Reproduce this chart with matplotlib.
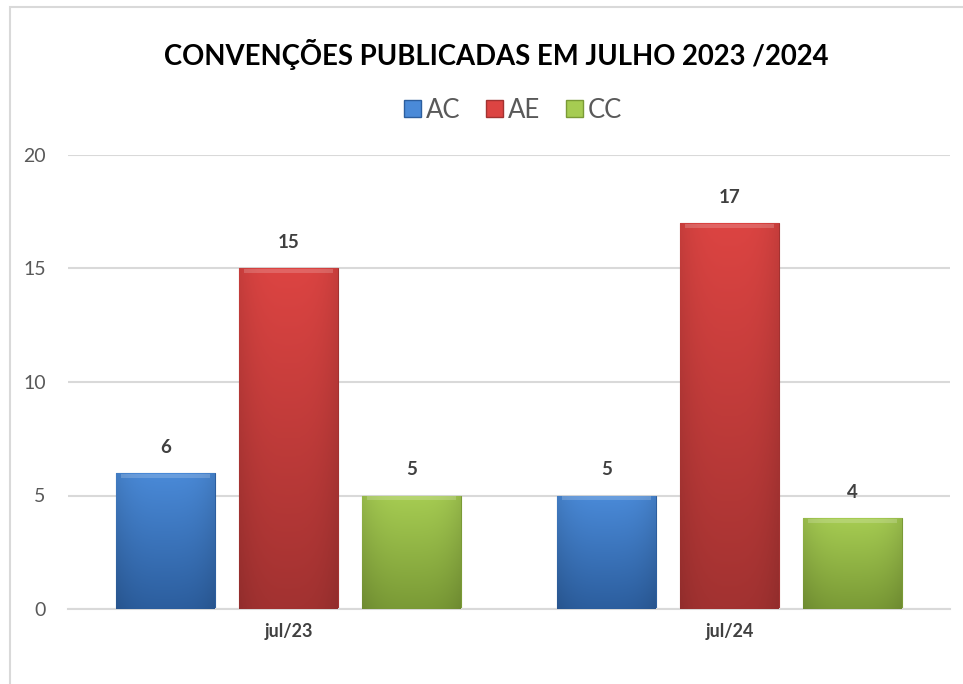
import matplotlib
matplotlib.use("Agg")
import matplotlib.pyplot as plt
import matplotlib.patches as mpatches
import numpy as np

# dados do gráfico
categorias = ["jul/23", "jul/24"]
series = ["AC", "AE", "CC"]
valores_ac = [6, 5]
valores_ae = [15, 17]
valores_cc = [5, 4]

plt.rcParams['font.family'] = ['Lato', 'DejaVu Sans']

cores = {"AC": ("#4a8ad8", "#2c5e9e"),
         "AE": ("#dc4442", "#a23231"),
         "CC": ("#a6cc52", "#7a9a36")}

fig = plt.figure(figsize=[9.63, 6.84], dpi=100)
ax = fig.add_axes([68/963, 1 - 609/684, (950 - 68)/963, (609 - 155)/684])

# moldura do gráfico
moldura = mpatches.Rectangle((10/963, -0.05), 1.2, 1 - 7/684 + 0.05,
                             transform=fig.transFigure, fill=False,
                             edgecolor="#d9d9d9", linewidth=1.5)
fig.add_artist(moldura)

x = np.arange(len(categorias))
largura = 0.224
passo = 0.279

def pinta_gradiente(ax, barra, c_topo, c_base):
    # preenche a barra com um degradê vertical (topo claro, base escura)
    x0, y0 = barra.get_x(), barra.get_y()
    w, h = barra.get_width(), barra.get_height()
    c1 = np.array(matplotlib.colors.to_rgb(c_topo))
    c2 = np.array(matplotlib.colors.to_rgb(c_base))
    t = np.linspace(0, 1, 100)[:, None]
    grad = c1 * (1 - t) + c2 * t
    s = np.linspace(-1, 1, 60)[None, :]
    sombra = 1 - 0.10 * np.abs(s) ** 3
    img = grad[:, None, :] * sombra[:, :, None]
    im = ax.imshow(img, extent=[x0, x0 + w, y0, y0 + h], origin="upper",
                   aspect="auto", zorder=3)
    im.set_clip_path(barra)
    # faixa clara no topo (efeito de chanfro)
    ax.add_patch(mpatches.Rectangle((x0 + w * 0.05, y0 + h - 0.22), w * 0.90, 0.18,
                                    facecolor="white", alpha=0.18,
                                    edgecolor="none", zorder=4))

for i, (nome, vals) in enumerate(zip(series, [valores_ac, valores_ae, valores_cc])):
    barras = ax.bar(x + (i - 1) * passo, vals, largura, color=cores[nome][0],
                    edgecolor=cores[nome][1], linewidth=0.8, zorder=2, label=nome)
    for b, v in zip(barras, vals):
        pinta_gradiente(ax, b, cores[nome][0], cores[nome][1])
        ax.text(b.get_x() + b.get_width()/2, v + 0.75, str(v),
                ha="center", va="bottom", fontsize=13.5, fontweight="bold",
                color="#404040")

ax.set_xlim(-0.5, 1.5)
ax.set_ylim(0, 20)
ax.set_yticks([0, 5, 10, 15, 20])
ax.set_xticks(x)
ax.set_xticklabels(categorias, fontsize=13, fontweight="bold", color="#404040")
ax.tick_params(axis="y", labelsize=14, labelcolor="#595959", length=0, pad=16)
ax.tick_params(axis="x", length=0, pad=10)
ax.grid(axis="y", color="#d9d9d9", linewidth=1.5, zorder=0)
for lado in ["top", "right", "left"]:
    ax.spines[lado].set_visible(False)
ax.spines["bottom"].set_color("#d9d9d9")
ax.spines["bottom"].set_linewidth(1.5)

fig.text(496/963, 1 - 55/684, "CONVENÇÕES PUBLICADAS EM JULHO 2023 /2024",
         ha="center", va="center", fontsize=19.8, fontweight="bold", color="black")

handles = [mpatches.Patch(facecolor=cores[n][0], edgecolor=cores[n][1]) for n in series]
fig.legend(handles, series, loc="center", bbox_to_anchor=(513/963, 1 - 110/684),
           ncol=3, frameon=False, fontsize=18.5, handlelength=0.65, handleheight=0.65,
           handletextpad=0.2, columnspacing=1.0, labelcolor="#595959")

fig.savefig("out.png", dpi=100)
